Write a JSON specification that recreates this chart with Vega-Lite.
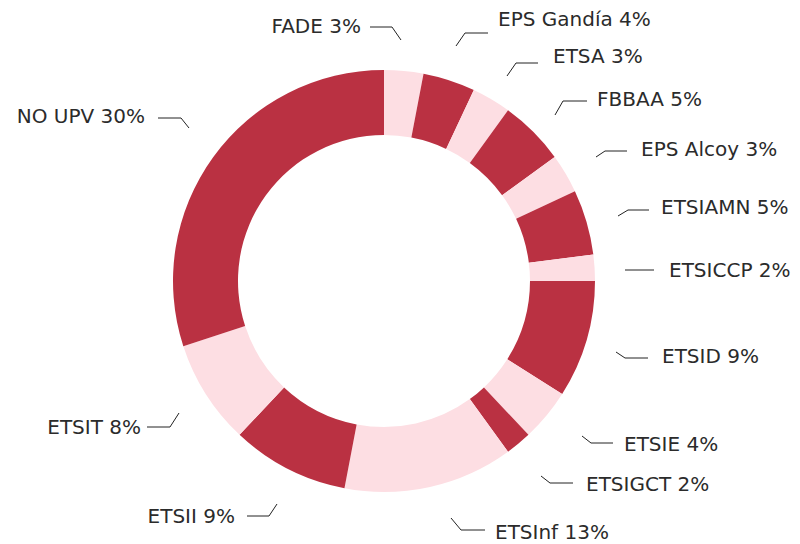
{
  "$schema": "https://vega.github.io/schema/vega-lite/v6.json",
  "width": 768,
  "height": 526,
  "autosize": {"type": "none"},
  "padding": {"left": 0, "right": 32, "top": 18, "bottom": 0},
  "background": "white",
  "config": {"view": {"stroke": null}},
  "datasets": {
    "slices": [
      {"idx": 1, "centro": "FADE", "pct": 3, "shade": "light"},
      {"idx": 2, "centro": "EPS Gandía", "pct": 4, "shade": "dark"},
      {"idx": 3, "centro": "ETSA", "pct": 3, "shade": "light"},
      {"idx": 4, "centro": "FBBAA", "pct": 5, "shade": "dark"},
      {"idx": 5, "centro": "EPS Alcoy", "pct": 3, "shade": "light"},
      {"idx": 6, "centro": "ETSIAMN", "pct": 5, "shade": "dark"},
      {"idx": 7, "centro": "ETSICCP", "pct": 2, "shade": "light"},
      {"idx": 8, "centro": "ETSID", "pct": 9, "shade": "dark"},
      {"idx": 9, "centro": "ETSIE", "pct": 4, "shade": "light"},
      {"idx": 10, "centro": "ETSIGCT", "pct": 2, "shade": "dark"},
      {"idx": 11, "centro": "ETSInf", "pct": 13, "shade": "light"},
      {"idx": 12, "centro": "ETSII", "pct": 9, "shade": "dark"},
      {"idx": 13, "centro": "ETSIT", "pct": 8, "shade": "light"},
      {"idx": 14, "centro": "NO UPV", "pct": 30, "shade": "dark"}
    ],
    "leaders": [
      {"centro": "FADE", "pt": 1, "x": 17, "y": 241},
      {"centro": "FADE", "pt": 2, "x": 8, "y": 254},
      {"centro": "FADE", "pt": 3, "x": -14, "y": 254},
      {"centro": "EPS Gandía", "pt": 1, "x": 72, "y": 235},
      {"centro": "EPS Gandía", "pt": 2, "x": 81, "y": 248},
      {"centro": "EPS Gandía", "pt": 3, "x": 104, "y": 248},
      {"centro": "ETSA", "pt": 1, "x": 123, "y": 205},
      {"centro": "ETSA", "pt": 2, "x": 132, "y": 218},
      {"centro": "ETSA", "pt": 3, "x": 154, "y": 218},
      {"centro": "FBBAA", "pt": 1, "x": 171, "y": 166},
      {"centro": "FBBAA", "pt": 2, "x": 179, "y": 180},
      {"centro": "FBBAA", "pt": 3, "x": 203, "y": 180},
      {"centro": "EPS Alcoy", "pt": 1, "x": 212, "y": 124},
      {"centro": "EPS Alcoy", "pt": 2, "x": 221, "y": 130},
      {"centro": "EPS Alcoy", "pt": 3, "x": 243, "y": 130},
      {"centro": "ETSIAMN", "pt": 1, "x": 234, "y": 65},
      {"centro": "ETSIAMN", "pt": 2, "x": 244, "y": 71},
      {"centro": "ETSIAMN", "pt": 3, "x": 265, "y": 71},
      {"centro": "ETSICCP", "pt": 1, "x": 241, "y": 11},
      {"centro": "ETSICCP", "pt": 2, "x": 255, "y": 11},
      {"centro": "ETSICCP", "pt": 3, "x": 270, "y": 11},
      {"centro": "ETSID", "pt": 1, "x": 232, "y": -71},
      {"centro": "ETSID", "pt": 2, "x": 241, "y": -77},
      {"centro": "ETSID", "pt": 3, "x": 264, "y": -77},
      {"centro": "ETSIE", "pt": 1, "x": 198, "y": -155},
      {"centro": "ETSIE", "pt": 2, "x": 207, "y": -162},
      {"centro": "ETSIE", "pt": 3, "x": 229, "y": -162},
      {"centro": "ETSIGCT", "pt": 1, "x": 157, "y": -195},
      {"centro": "ETSIGCT", "pt": 2, "x": 166, "y": -202},
      {"centro": "ETSIGCT", "pt": 3, "x": 189, "y": -202},
      {"centro": "ETSInf", "pt": 1, "x": 67, "y": -237},
      {"centro": "ETSInf", "pt": 2, "x": 77, "y": -249},
      {"centro": "ETSInf", "pt": 3, "x": 101, "y": -249},
      {"centro": "ETSII", "pt": 1, "x": -107, "y": -223},
      {"centro": "ETSII", "pt": 2, "x": -115, "y": -235},
      {"centro": "ETSII", "pt": 3, "x": -137, "y": -235},
      {"centro": "ETSIT", "pt": 1, "x": -205, "y": -132},
      {"centro": "ETSIT", "pt": 2, "x": -214, "y": -146},
      {"centro": "ETSIT", "pt": 3, "x": -237, "y": -146},
      {"centro": "NO UPV", "pt": 1, "x": -195, "y": 153},
      {"centro": "NO UPV", "pt": 2, "x": -203, "y": 163},
      {"centro": "NO UPV", "pt": 3, "x": -226, "y": 163}
    ],
    "labelsLeft": [
      {"label": "FADE 3%", "x": -23, "y": 254},
      {"label": "NO UPV 30%", "x": -239, "y": 164},
      {"label": "ETSIT 8%", "x": -243, "y": -147},
      {"label": "ETSII 9%", "x": -149, "y": -236}
    ],
    "labelsRight": [
      {"label": "EPS Gandía 4%", "x": 114, "y": 261},
      {"label": "ETSA 3%", "x": 169, "y": 224},
      {"label": "FBBAA 5%", "x": 213, "y": 181},
      {"label": "EPS Alcoy 3%", "x": 257, "y": 131},
      {"label": "ETSIAMN 5%", "x": 277, "y": 73},
      {"label": "ETSICCP 2%", "x": 285, "y": 10},
      {"label": "ETSID 9%", "x": 278, "y": -76},
      {"label": "ETSIE 4%", "x": 240, "y": -164},
      {"label": "ETSIGCT 2%", "x": 202, "y": -204},
      {"label": "ETSInf 13%", "x": 111, "y": -252}
    ]
  },
  "layer": [
    {
      "data": {"name": "slices"},
      "mark": {"type": "arc", "outerRadius": 211, "innerRadius": 146},
      "encoding": {
        "theta": {"field": "pct", "type": "quantitative", "stack": true},
        "order": {"field": "idx", "type": "quantitative"},
        "color": {
          "field": "shade",
          "type": "nominal",
          "scale": {"domain": ["dark", "light"], "range": ["#BA3142", "#FDDEE3"]},
          "legend": null
        }
      }
    },
    {
      "data": {"name": "leaders"},
      "mark": {"type": "line", "color": "#222222", "strokeWidth": 1},
      "encoding": {
        "x": {"field": "x", "type": "quantitative", "scale": {"domain": [-384, 384], "nice": false, "zero": false}, "axis": null},
        "y": {"field": "y", "type": "quantitative", "scale": {"domain": [-263, 263], "nice": false, "zero": false}, "axis": null},
        "detail": {"field": "centro", "type": "nominal"},
        "order": {"field": "pt", "type": "quantitative"}
      }
    },
    {
      "data": {"name": "labelsLeft"},
      "mark": {"type": "text", "align": "right", "baseline": "middle", "font": "DejaVu Sans", "fontSize": 20, "color": "#2b2b2b"},
      "encoding": {
        "x": {"field": "x", "type": "quantitative"},
        "y": {"field": "y", "type": "quantitative"},
        "text": {"field": "label", "type": "nominal"}
      }
    },
    {
      "data": {"name": "labelsRight"},
      "mark": {"type": "text", "align": "left", "baseline": "middle", "font": "DejaVu Sans", "fontSize": 20, "color": "#2b2b2b"},
      "encoding": {
        "x": {"field": "x", "type": "quantitative"},
        "y": {"field": "y", "type": "quantitative"},
        "text": {"field": "label", "type": "nominal"}
      }
    }
  ]
}
